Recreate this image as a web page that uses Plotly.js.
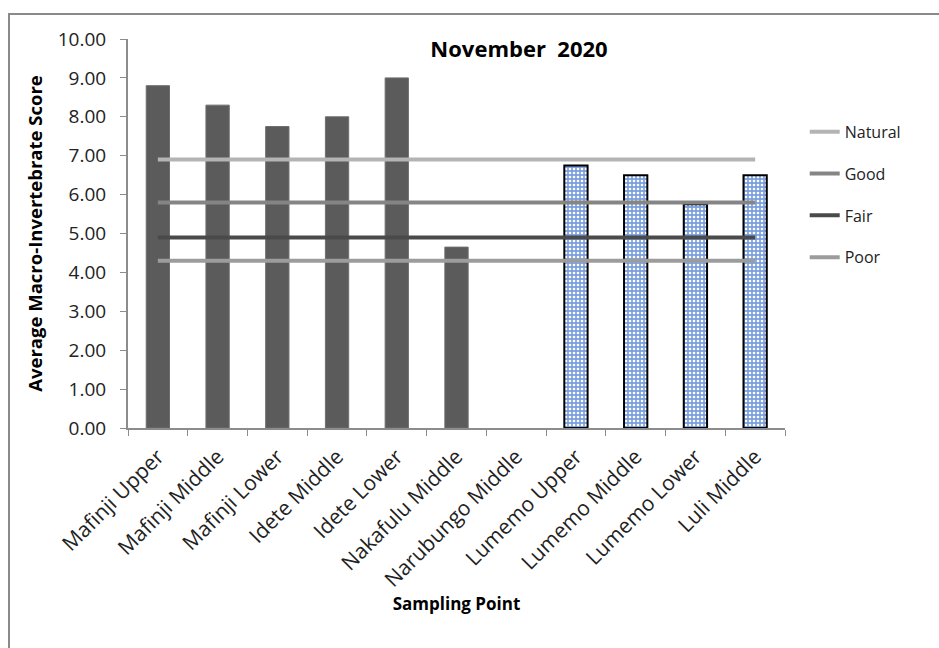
<!DOCTYPE html>
<html>
<head>
<meta charset="utf-8">
<script src="https://cdn.plot.ly/plotly-3.0.1.min.js"></script>
<style>
  html, body { margin: 0; padding: 0; background: #fff; }
  #frame { position: absolute; left: 8px; top: 13px; width: 940px; height: 640px;
           border-left: 2px solid #8a8a8a; border-top: 2px solid #8a8a8a; }
  #chart { position: absolute; left: 0; top: 0; width: 939px; height: 648px; }
</style>
</head>
<body>
<div id="frame"></div>
<div id="chart"></div>
<script>
// ---- data ----
const categories = ["Mafinji Upper", "Mafinji Middle", "Mafinji Lower", "Idete Middle", "Idete Lower",
  "Nakafulu Middle", "Narubungo Middle", "Lumemo Upper", "Lumemo Middle", "Lumemo Lower", "Luli Middle"];
const solidScores = [8.8, 8.3, 7.75, 8.0, 9.0, 4.65, null, null, null, null, null];
const patternScores = [null, null, null, null, null, null, null, 6.75, 6.5, 5.75, 6.5];
const levelNames = ["Natural", "Good", "Fair", "Poor"];
const levelValues = [6.9, 5.8, 4.9, 4.3];
const yTickValues = [0, 1, 2, 3, 4, 5, 6, 7, 8, 9, 10];
const yTickLabels = ["0.00", "1.00", "2.00", "3.00", "4.00", "5.00", "6.00", "7.00", "8.00", "9.00", "10.00"];

const levelColors = ["#b4b4b4", "#858585", "#4a4a4a", "#9c9c9c"];
const font = "Open Sans, DejaVu Sans, sans-serif";

const traces = [
  { type: "bar", x: categories, y: solidScores, marker: { color: "#5b5b5b", line: { color: "#6e6e6e", width: 1 } },
    showlegend: false, hoverinfo: "x+y" },
  { type: "bar", x: categories, y: patternScores,
    marker: { color: "#ffffff", line: { color: "#000000", width: 2 },
      pattern: { shape: ".", bgcolor: "#7a9fdc", fgcolor: "#ffffff", size: 4, solidity: 0.35 } },
    showlegend: false, hoverinfo: "x+y" }
];
levelNames.forEach((name, i) => {
  traces.push({ type: "scatter", mode: "lines", name: name, legendgroup: name,
    x: [categories[0], categories[categories.length - 1]], y: [levelValues[i], levelValues[i]],
    line: { color: levelColors[i], width: 4 } });
});

const layout = {
  width: 939, height: 648,
  margin: { l: 128, r: 154, t: 39, b: 220 },
  paper_bgcolor: "rgba(0,0,0,0)", plot_bgcolor: "rgba(0,0,0,0)",
  bargap: 0.61, barmode: "overlay",
  font: { family: font, color: "#222", size: 18 },
  title: { text: "<b>November  2020</b>", font: { family: font, size: 22, color: "#000" },
    xref: "container", yref: "container", x: 519 / 939, xanchor: "center", y: 1 - 49 / 648, yanchor: "middle" },
  xaxis: { type: "category", tickangle: -45, tickson: "boundaries", ticks: "outside", ticklen: 6,
    tickcolor: "#8c8c8c", linecolor: "#8c8c8c", linewidth: 2, showline: true, showgrid: false,
    ticklabelstandoff: 6,
    tickfont: { family: font, size: 21, color: "#222" },
    title: { text: "<b>Sampling Point</b>", font: { family: font, size: 17, color: "#000" }, standoff: 2 } },
  yaxis: { range: [0, 10], tickvals: yTickValues, ticktext: yTickLabels, ticks: "outside", ticklen: 6,
    tickcolor: "#8c8c8c", linecolor: "#8c8c8c", linewidth: 2, showline: true, showgrid: false, zeroline: false,
    ticklabelstandoff: 10,
    tickfont: { family: font, size: 19, color: "#222" },
    title: { text: "<b>Average Macro-Invertebrate Score</b>", font: { family: font, size: 18.5, color: "#000" }, standoff: 10 } },
  legend: { x: 1.03, xanchor: "left", y: 0.805, yanchor: "top", tracegroupgap: 18, itemwidth: 30,
    font: { family: font, size: 16, color: "#222" }, bgcolor: "rgba(0,0,0,0)" },
  showlegend: true
};

Plotly.newPlot("chart", traces, layout, { displayModeBar: false, staticPlot: true });
</script>
</body>
</html>
